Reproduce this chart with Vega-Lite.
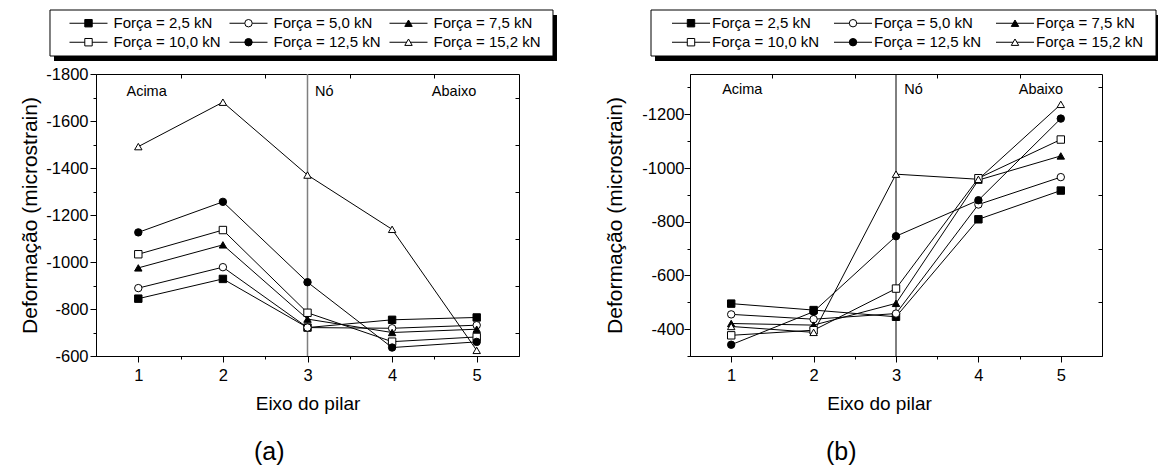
{
  "$schema": "https://vega.github.io/schema/vega-lite/v6.json",
  "padding": {"left": 19, "top": 9, "right": 0, "bottom": 0},
  "autosize": {"type": "pad"},
  "background": "white",
  "spacing": 47,
  "config": {
    "font": "Liberation Sans",
    "view": {"stroke": "black", "strokeWidth": 1},
    "axis": {"labelFont": "Liberation Sans", "titleFont": "Liberation Sans", "labelColor": "black", "titleColor": "black", "domainColor": "black", "tickColor": "black", "tickWidth": 1, "domainWidth": 1, "grid": false, "titleFontWeight": "normal", "labelFontSize": 16.5},
    "title": {"font": "Liberation Sans", "fontSize": 25, "fontWeight": "normal", "color": "black"},
    "text": {"font": "Liberation Sans", "color": "black"}
  },
  "datasets": {
    "a": [
      {"eixo": 1, "forca": "2,5", "def": -844}, {"eixo": 2, "forca": "2,5", "def": -928}, {"eixo": 3, "forca": "2,5", "def": -721}, {"eixo": 4, "forca": "2,5", "def": -754}, {"eixo": 5, "forca": "2,5", "def": -764},
      {"eixo": 1, "forca": "5,0", "def": -889}, {"eixo": 2, "forca": "5,0", "def": -978}, {"eixo": 3, "forca": "5,0", "def": -721}, {"eixo": 4, "forca": "5,0", "def": -718}, {"eixo": 5, "forca": "5,0", "def": -731},
      {"eixo": 1, "forca": "7,5", "def": -975}, {"eixo": 2, "forca": "7,5", "def": -1073}, {"eixo": 3, "forca": "7,5", "def": -757}, {"eixo": 4, "forca": "7,5", "def": -700}, {"eixo": 5, "forca": "7,5", "def": -714},
      {"eixo": 1, "forca": "10,0", "def": -1033}, {"eixo": 2, "forca": "10,0", "def": -1136}, {"eixo": 3, "forca": "10,0", "def": -784}, {"eixo": 4, "forca": "10,0", "def": -661}, {"eixo": 5, "forca": "10,0", "def": -681},
      {"eixo": 1, "forca": "12,5", "def": -1126}, {"eixo": 2, "forca": "12,5", "def": -1256}, {"eixo": 3, "forca": "12,5", "def": -914}, {"eixo": 4, "forca": "12,5", "def": -636}, {"eixo": 5, "forca": "12,5", "def": -660},
      {"eixo": 1, "forca": "15,2", "def": -1491}, {"eixo": 2, "forca": "15,2", "def": -1680}, {"eixo": 3, "forca": "15,2", "def": -1370}, {"eixo": 4, "forca": "15,2", "def": -1139}, {"eixo": 5, "forca": "15,2", "def": -624}
    ],
    "b": [
      {"eixo": 1, "forca": "2,5", "def": -495}, {"eixo": 2, "forca": "2,5", "def": -471}, {"eixo": 3, "forca": "2,5", "def": -446}, {"eixo": 4, "forca": "2,5", "def": -809}, {"eixo": 5, "forca": "2,5", "def": -916},
      {"eixo": 1, "forca": "5,0", "def": -455}, {"eixo": 2, "forca": "5,0", "def": -437}, {"eixo": 3, "forca": "5,0", "def": -458}, {"eixo": 4, "forca": "5,0", "def": -864}, {"eixo": 5, "forca": "5,0", "def": -966},
      {"eixo": 1, "forca": "7,5", "def": -421}, {"eixo": 2, "forca": "7,5", "def": -415}, {"eixo": 3, "forca": "7,5", "def": -496}, {"eixo": 4, "forca": "7,5", "def": -955}, {"eixo": 5, "forca": "7,5", "def": -1045},
      {"eixo": 1, "forca": "10,0", "def": -377}, {"eixo": 2, "forca": "10,0", "def": -396}, {"eixo": 3, "forca": "10,0", "def": -551}, {"eixo": 4, "forca": "10,0", "def": -962}, {"eixo": 5, "forca": "10,0", "def": -1106},
      {"eixo": 1, "forca": "12,5", "def": -342}, {"eixo": 2, "forca": "12,5", "def": -465}, {"eixo": 3, "forca": "12,5", "def": -746}, {"eixo": 4, "forca": "12,5", "def": -880}, {"eixo": 5, "forca": "12,5", "def": -1184},
      {"eixo": 1, "forca": "15,2", "def": -410}, {"eixo": 2, "forca": "15,2", "def": -388}, {"eixo": 3, "forca": "15,2", "def": -977}, {"eixo": 4, "forca": "15,2", "def": -958}, {"eixo": 5, "forca": "15,2", "def": -1237}
    ],
    "ann_a": [
      {"eixo": 0.86, "def": -1723, "label": "Acima"},
      {"eixo": 3.09, "def": -1723, "label": "Nó"},
      {"eixo": 4.47, "def": -1723, "label": "Abaixo"}
    ],
    "ann_b": [
      {"eixo": 0.89, "def": -1291, "label": "Acima"},
      {"eixo": 3.1, "def": -1291, "label": "Nó"},
      {"eixo": 4.49, "def": -1291, "label": "Abaixo"}
    ],
    "legend": [
      {"col": 0, "row": 0, "forca": "2,5", "label": "Força = 2,5 kN"},
      {"col": 1, "row": 0, "forca": "5,0", "label": "Força = 5,0 kN"},
      {"col": 2, "row": 0, "forca": "7,5", "label": "Força = 7,5 kN"},
      {"col": 0, "row": 1, "forca": "10,0", "label": "Força = 10,0 kN"},
      {"col": 1, "row": 1, "forca": "12,5", "label": "Força = 12,5 kN"},
      {"col": 2, "row": 1, "forca": "15,2", "label": "Força = 15,2 kN"}
    ]
  },
  "hconcat": [
    {
      "bounds": "flush",
      "spacing": 18,
      "vconcat": [
        {
          "width": 423, "height": 46,
          "view": {"stroke": null},
          "layer": [
            {"data": {"values": [{}]}, "mark": {"type": "rect", "fill": "black"},
             "encoding": {
               "x": {"datum": -0.2156, "type": "quantitative", "scale": {"domain": [0.0469, 2.6906], "nice": false, "zero": false}, "axis": null},
               "x2": {"datum": 2.928},
               "y": {"datum": -0.432, "type": "quantitative", "scale": {"domain": [-0.695, 1.726], "reverse": true, "nice": false, "zero": false}, "axis": null},
               "y2": {"datum": 1.989}}},
            {"data": {"values": [{}]}, "mark": {"type": "rect", "fill": "white", "stroke": "black", "strokeWidth": 1},
             "encoding": {
               "x": {"datum": -0.2406, "type": "quantitative", "axis": null},
               "x2": {"datum": 2.903},
               "y": {"datum": -0.695, "type": "quantitative", "axis": null},
               "y2": {"datum": 1.726}}},
            {"data": {"name": "legend"}, "mark": {"type": "tick", "orient": "horizontal", "size": 38, "thickness": 1, "color": "black", "opacity": 1},
             "encoding": {
               "x": {"field": "col", "type": "quantitative", "axis": null},
               "y": {"field": "row", "type": "quantitative", "axis": null}}},
            {"data": {"name": "legend"}, "mark": {"type": "point", "filled": true, "stroke": "black", "strokeWidth": 1, "size": 55, "opacity": 1},
             "encoding": {
               "x": {"field": "col", "type": "quantitative", "axis": null},
               "y": {"field": "row", "type": "quantitative", "axis": null},
               "shape": {"field": "forca", "type": "nominal", "scale": {"domain": ["2,5", "5,0", "7,5", "10,0", "12,5", "15,2"], "range": ["square", "circle", "triangle-up", "square", "circle", "triangle-up"]}, "legend": null},
               "fill": {"field": "forca", "type": "nominal", "scale": {"domain": ["2,5", "5,0", "7,5", "10,0", "12,5", "15,2"], "range": ["black", "white", "black", "white", "black", "white"]}, "legend": null}}},
            {"data": {"name": "legend"}, "mark": {"type": "text", "align": "left", "baseline": "middle", "dx": 25, "fontSize": 15, "font": "Liberation Sans", "color": "black"},
             "encoding": {
               "x": {"field": "col", "type": "quantitative", "axis": null},
               "y": {"field": "row", "type": "quantitative", "axis": null},
               "text": {"field": "label"}}}
          ]
        },
        {
          "width": 423, "height": 282,
          "title": {"text": "(a)", "orient": "bottom", "anchor": "start", "frame": "group", "dx": 158, "offset": 26},
          "resolve": {"axis": {"x": "independent", "y": "independent"}},
          "layer": [
            {"data": {"values": [{}]}, "mark": {"type": "rule", "color": "#7f7f7f", "strokeWidth": 1.5},
             "encoding": {"x": {"datum": 3, "type": "quantitative", "axis": null}}},
            {"data": {"name": "a"}, "mark": {"type": "line", "color": "black", "strokeWidth": 1},
             "encoding": {
               "x": {"field": "eixo", "type": "quantitative", "scale": {"domain": [0.5, 5.5], "nice": false, "zero": false},
                     "axis": {"title": "Eixo do pilar", "values": [1, 1.5, 2, 2.5, 3, 3.5, 4, 4.5, 5], "labelExpr": "datum.value % 1 == 0 ? '' + datum.value : ''", "tickSize": {"condition": {"test": "datum.value % 1 == 0", "value": 6}, "value": 3}, "labelPadding": 5, "titlePadding": 11, "titleFontSize": 19}},
               "y": {"field": "def", "type": "quantitative", "scale": {"domain": [-1800, -600], "reverse": true, "nice": false, "zero": false},
                     "axis": {"title": "Deformação (microstrain)", "values": [-1800, -1700, -1600, -1500, -1400, -1300, -1200, -1100, -1000, -900, -800, -700, -600], "labelExpr": "datum.value % 200 == 0 ? '-' + abs(datum.value) : ''", "tickSize": {"condition": {"test": "datum.value % 200 == 0", "value": 6}, "value": 3}, "labelPadding": 2, "titlePadding": 5, "titleFontSize": 21}},
               "detail": {"field": "forca"}}},
            {"data": {"name": "a"}, "mark": {"type": "point", "filled": true, "stroke": "black", "strokeWidth": 1, "size": 55, "opacity": 1},
             "encoding": {
               "x": {"field": "eixo", "type": "quantitative", "axis": {"orient": "top", "values": [1.5, 2.5, 3.5, 4.5], "labels": false, "domain": false, "title": null, "tickSize": -4}},
               "y": {"field": "def", "type": "quantitative", "axis": {"orient": "right", "values": [-1700, -1500, -1300, -1100, -900, -700], "labels": false, "domain": false, "title": null, "tickSize": -4}},
               "shape": {"field": "forca", "type": "nominal", "scale": {"domain": ["2,5", "5,0", "7,5", "10,0", "12,5", "15,2"], "range": ["square", "circle", "triangle-up", "square", "circle", "triangle-up"]}, "legend": null},
               "fill": {"field": "forca", "type": "nominal", "scale": {"domain": ["2,5", "5,0", "7,5", "10,0", "12,5", "15,2"], "range": ["black", "white", "black", "white", "black", "white"]}, "legend": null}}},
            {"data": {"name": "ann_a"}, "mark": {"type": "text", "align": "left", "baseline": "middle", "fontSize": 14.5, "font": "Liberation Sans", "color": "black"},
             "encoding": {
               "x": {"field": "eixo", "type": "quantitative", "axis": null},
               "y": {"field": "def", "type": "quantitative", "axis": null},
               "text": {"field": "label"}}}
          ]
        }
      ]
    },
    {
      "bounds": "flush",
      "spacing": 18,
      "vconcat": [
        {
          "width": 412, "height": 46,
          "view": {"stroke": null},
          "layer": [
            {"data": {"values": [{}]}, "mark": {"type": "rect", "fill": "black"},
             "encoding": {
               "x": {"datum": -0.2222, "type": "quantitative", "scale": {"domain": [-0.00617, 2.537], "nice": false, "zero": false}, "axis": null},
               "x2": {"datum": 2.895},
               "y": {"datum": -0.432, "type": "quantitative", "scale": {"domain": [-0.695, 1.726], "reverse": true, "nice": false, "zero": false}, "axis": null},
               "y2": {"datum": 1.989}}},
            {"data": {"values": [{}]}, "mark": {"type": "rect", "fill": "white", "stroke": "black", "strokeWidth": 1},
             "encoding": {
               "x": {"datum": -0.2469, "type": "quantitative", "axis": null},
               "x2": {"datum": 2.8704},
               "y": {"datum": -0.695, "type": "quantitative", "axis": null},
               "y2": {"datum": 1.726}}},
            {"data": {"name": "legend"}, "mark": {"type": "tick", "orient": "horizontal", "size": 38, "thickness": 1, "color": "black", "opacity": 1},
             "encoding": {
               "x": {"field": "col", "type": "quantitative", "axis": null},
               "y": {"field": "row", "type": "quantitative", "axis": null}}},
            {"data": {"name": "legend"}, "mark": {"type": "point", "filled": true, "stroke": "black", "strokeWidth": 1, "size": 55, "opacity": 1},
             "encoding": {
               "x": {"field": "col", "type": "quantitative", "axis": null},
               "y": {"field": "row", "type": "quantitative", "axis": null},
               "shape": {"field": "forca", "type": "nominal", "scale": {"domain": ["2,5", "5,0", "7,5", "10,0", "12,5", "15,2"], "range": ["square", "circle", "triangle-up", "square", "circle", "triangle-up"]}, "legend": null},
               "fill": {"field": "forca", "type": "nominal", "scale": {"domain": ["2,5", "5,0", "7,5", "10,0", "12,5", "15,2"], "range": ["black", "white", "black", "white", "black", "white"]}, "legend": null}}},
            {"data": {"name": "legend"}, "mark": {"type": "text", "align": "left", "baseline": "middle", "dx": 21, "fontSize": 15, "font": "Liberation Sans", "color": "black"},
             "encoding": {
               "x": {"field": "col", "type": "quantitative", "axis": null},
               "y": {"field": "row", "type": "quantitative", "axis": null},
               "text": {"field": "label"}}}
          ]
        },
        {
          "width": 412, "height": 282,
          "title": {"text": "(b)", "orient": "bottom", "anchor": "start", "frame": "group", "dx": 136, "offset": 26},
          "resolve": {"axis": {"x": "independent", "y": "independent"}},
          "layer": [
            {"data": {"values": [{}]}, "mark": {"type": "rule", "color": "black", "strokeWidth": 1},
             "encoding": {"x": {"datum": 3, "type": "quantitative", "axis": null}}},
            {"data": {"name": "b"}, "mark": {"type": "line", "color": "black", "strokeWidth": 1},
             "encoding": {
               "x": {"field": "eixo", "type": "quantitative", "scale": {"domain": [0.5, 5.5], "nice": false, "zero": false},
                     "axis": {"title": "Eixo do pilar", "titleX": 189, "values": [1, 1.5, 2, 2.5, 3, 3.5, 4, 4.5, 5], "labelExpr": "datum.value % 1 == 0 ? '' + datum.value : ''", "tickSize": {"condition": {"test": "datum.value % 1 == 0", "value": 6}, "value": 3}, "labelPadding": 5, "titlePadding": 11, "titleFontSize": 19}},
               "y": {"field": "def", "type": "quantitative", "scale": {"domain": [-1350, -300], "reverse": true, "nice": false, "zero": false},
                     "axis": {"title": "Deformação (microstrain)", "values": [-1300, -1200, -1100, -1000, -900, -800, -700, -600, -500, -400, -300], "labelExpr": "datum.value % 200 == 0 ? '-' + abs(datum.value) : ''", "tickSize": {"condition": {"test": "datum.value % 200 == 0", "value": 6}, "value": 3}, "labelPadding": 0, "titlePadding": 16, "titleFontSize": 21}},
               "detail": {"field": "forca"}}},
            {"data": {"name": "b"}, "mark": {"type": "point", "filled": true, "stroke": "black", "strokeWidth": 1, "size": 55, "opacity": 1},
             "encoding": {
               "x": {"field": "eixo", "type": "quantitative", "axis": {"orient": "top", "values": [1.5, 2.5, 3.5, 4.5], "labels": false, "domain": false, "title": null, "tickSize": -4}},
               "y": {"field": "def", "type": "quantitative", "axis": {"orient": "right", "values": [-1300, -1100, -900, -700, -500], "labels": false, "domain": false, "title": null, "tickSize": -4}},
               "shape": {"field": "forca", "type": "nominal", "scale": {"domain": ["2,5", "5,0", "7,5", "10,0", "12,5", "15,2"], "range": ["square", "circle", "triangle-up", "square", "circle", "triangle-up"]}, "legend": null},
               "fill": {"field": "forca", "type": "nominal", "scale": {"domain": ["2,5", "5,0", "7,5", "10,0", "12,5", "15,2"], "range": ["black", "white", "black", "white", "black", "white"]}, "legend": null}}},
            {"data": {"name": "ann_b"}, "mark": {"type": "text", "align": "left", "baseline": "middle", "fontSize": 14.5, "font": "Liberation Sans", "color": "black"},
             "encoding": {
               "x": {"field": "eixo", "type": "quantitative", "axis": null},
               "y": {"field": "def", "type": "quantitative", "axis": null},
               "text": {"field": "label"}}}
          ]
        }
      ]
    }
  ]
}
